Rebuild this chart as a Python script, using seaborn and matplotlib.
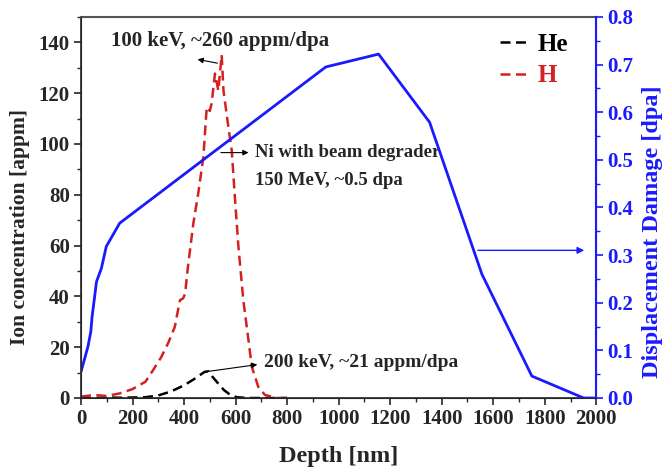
#!/usr/bin/env python
# -*- coding: utf-8 -*-
"""Ion concentration (He, H) and displacement damage vs depth."""

import pandas as pd
import matplotlib.pyplot as plt
import seaborn as sns
from matplotlib.ticker import MultipleLocator

# ---------------------------------------------------------------------------
# Data
# ---------------------------------------------------------------------------
depth_he = [0, 50, 100, 150, 200, 250, 300, 350, 400, 440, 480, 495, 510, 530, 555, 580, 605, 650, 700, 800]
conc_he = [0, 0, 0.2, 0.1, 0.2, 0.3, 1.0, 2.6, 5.0, 7.5, 10.3, 10.5, 8.4, 6.0, 3.1, 1.2, 0.3, 0, 0, 0]

depth_h = [0, 50, 100, 150, 200, 250, 280, 312, 340, 364, 384, 396, 404, 415, 436, 455,
           475, 488, 500, 507, 520, 533, 546, 553, 572, 585, 598, 611, 630, 650, 663,
           688, 714, 760, 800]
conc_h = [0.5, 1.2, 0.8, 1.8, 3.5, 6.4, 11, 16.2, 22, 28, 38.5, 39.2, 41, 51.6, 68.7, 80.5,
          95, 114.5, 113, 116, 127.7, 121, 135, 121, 106.7, 97.5, 77.9, 59.5, 38.5, 22.8, 12.3,
          4.4, 1.2, 0, 0]

depth_dpa = [0, 27, 38, 43, 53, 60, 79, 98, 150, 350, 550, 750, 950, 1155, 1353, 1556, 1750, 1951, 2000]
dpa = [0.055, 0.108, 0.139, 0.171, 0.213, 0.244, 0.272, 0.318, 0.367, 0.449, 0.531, 0.613,
       0.695, 0.722, 0.579, 0.260, 0.046, 0.0, 0.0]

BLUE = "#1a1aff"
RED = "#d42020"

sns.set_style("ticks")
plt.rcParams['font.family'] = ['Liberation Serif', 'DejaVu Serif']
plt.rcParams['font.weight'] = 'bold'
plt.rcParams['axes.labelweight'] = 'bold'

he = pd.DataFrame({"Depth": depth_he, "Conc": conc_he})
h = pd.DataFrame({"Depth": depth_h, "Conc": conc_h})
dmg = pd.DataFrame({"Depth": depth_dpa, "dpa": dpa})

fig = plt.figure(figsize=(6.64, 4.71), dpi=100)
ax = fig.add_axes([0.122, 0.155, 0.776, 0.809])
ax2 = ax.twinx()

sns.lineplot(data=he, x="Depth", y="Conc", ax=ax, color="black", lw=1.8,
             dashes=False, label="He")
sns.lineplot(data=h, x="Depth", y="Conc", ax=ax, color=RED, lw=1.8,
             dashes=False, label="H")
for line in ax.get_lines():
    line.set_dashes((4, 2.2))

sns.lineplot(data=dmg, x="Depth", y="dpa", ax=ax2, color=BLUE, lw=2, legend=False)

# ---- Axes ----
ax.set_xlim(0, 2000)
ax.set_ylim(0, 150)
ax2.set_ylim(0, 0.8)
ax.xaxis.set_major_locator(MultipleLocator(200))
ax.xaxis.set_minor_locator(MultipleLocator(100))
ax.yaxis.set_major_locator(MultipleLocator(20))
ax.yaxis.set_minor_locator(MultipleLocator(10))
ax2.yaxis.set_major_locator(MultipleLocator(0.1))
ax2.yaxis.set_minor_locator(MultipleLocator(0.05))
ax2.yaxis.set_major_formatter(plt.FormatStrFormatter('%.1f'))

ax.tick_params(which='major', length=5, width=1.2, labelsize=15, pad=3)
ax.tick_params(which='minor', length=3, width=1.0)
ax2.tick_params(which='major', length=5, width=1.2, labelsize=15, pad=3,
                colors=BLUE)
ax2.tick_params(which='minor', length=3, width=1.0, colors=BLUE)

ax.set_xlabel("Depth [nm]", fontsize=17.5, labelpad=12)
ax.set_ylabel("Ion concentration [appm]", fontsize=15.5, labelpad=6)
ax2.set_ylabel("Displacement Damage [dpa]", fontsize=17.5, color=BLUE, labelpad=6)
ax.yaxis.label.set_y(0.449)
ax2.yaxis.label.set_y(0.436)

for sp in ("left", "bottom"):
    ax.spines[sp].set_linewidth(1.2)
ax.spines["top"].set_color("#555555")
ax.spines["top"].set_linewidth(1.5)
ax2.spines["right"].set_color(BLUE)
ax2.spines["right"].set_linewidth(1.5)
ax2.spines["top"].set_visible(False)

# ---- Legend ----
leg = ax.legend(loc="upper right", bbox_to_anchor=(0.965, 0.985), frameon=False,
                fontsize=18, handlelength=1.2, handletextpad=0.3,
                labelspacing=0.35, borderaxespad=0)
for txt, col in zip(leg.get_texts(), ["black", RED]):
    txt.set_color(col)

# ---- Annotations ----
arrow = dict(arrowstyle="-|>", color="black", lw=0.8, mutation_scale=8)
ax.annotate("", xy=(442, 133.5), xytext=(540, 131.6), arrowprops=arrow)
ax.text(538, 140.5, "100 keV, ~260 appm/dpa", fontsize=15, ha="center", va="center")

ax.annotate("", xy=(661, 96.6), xytext=(532, 96.6), arrowprops=arrow)
ax.text(675, 96.6, "Ni with beam degrader", fontsize=13.5, va="center")
ax.text(675, 85.6, "150 MeV, ~0.5 dpa", fontsize=13.5, va="center")

ax.annotate("", xy=(695, 13.3), xytext=(482, 10.3), arrowprops=arrow)
ax.text(712, 13.8, "200 keV, ~21 appm/dpa", fontsize=14, va="center")

ax2.annotate("", xy=(1964, 0.31), xytext=(1530, 0.31),
             arrowprops=dict(arrowstyle="-|>", color=BLUE, lw=1.0, mutation_scale=10))

fig.savefig("out.png", dpi=100)
